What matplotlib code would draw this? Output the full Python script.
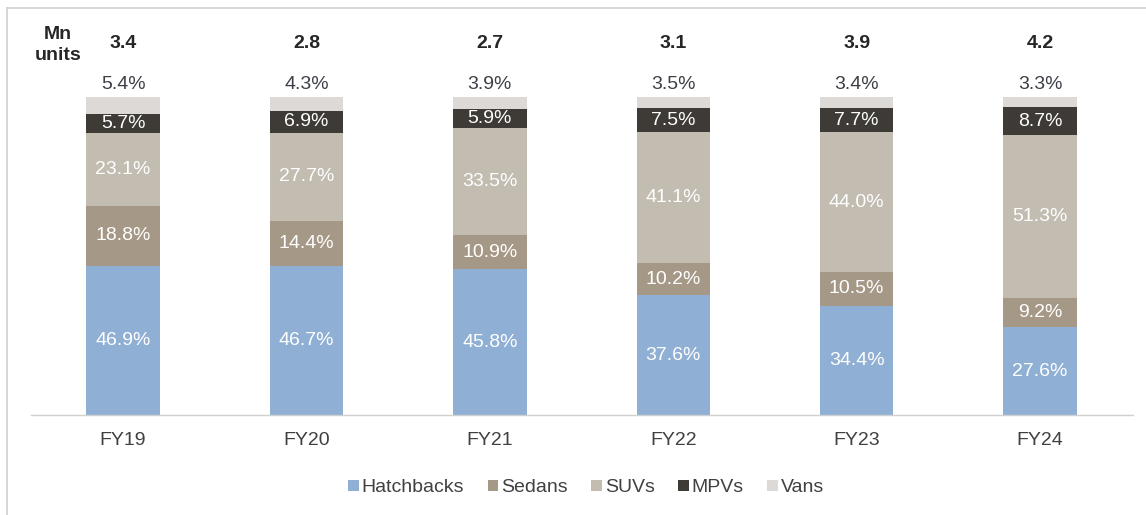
import matplotlib.pyplot as plt
from matplotlib.lines import Line2D
from matplotlib.patches import Patch
import numpy as np

plt.rcParams["font.family"] = ["Liberation Sans", "DejaVu Sans"]

years = ["FY19", "FY20", "FY21", "FY22", "FY23", "FY24"]
totals = [3.4, 2.8, 2.7, 3.1, 3.9, 4.2]
hatchbacks = [46.9, 46.7, 45.8, 37.6, 34.4, 27.6]
sedans = [18.8, 14.4, 10.9, 10.2, 10.5, 9.2]
suvs = [23.1, 27.7, 33.5, 41.1, 44.0, 51.3]
mpvs = [5.7, 6.9, 5.9, 7.5, 7.7, 8.7]
vans = [5.4, 4.3, 3.9, 3.5, 3.4, 3.3]

series = [
    ("Hatchbacks", hatchbacks, "#8fb0d4", "white"),
    ("Sedans", sedans, "#a69886", "white"),
    ("SUVs", suvs, "#c2bcb1", "white"),
    ("MPVs", mpvs, "#3e3a35", "white"),
    ("Vans", vans, "#dcd9d6", None),
]

FS = 14
W, H = 1146, 515
fig = plt.figure(figsize=(W / 100, H / 100), dpi=100)
ax = fig.add_axes([31 / W, 1 - 415 / H, (1133 - 31) / W, (415 - 97) / H])

x = np.arange(len(years))
bottom = np.zeros(len(years))
for name, vals, color, tcolor in series:
    vals = np.array(vals)
    ax.bar(x, vals, width=0.4, bottom=bottom, color=color, label=name, zorder=2)
    for i in range(len(years)):
        if tcolor is not None:
            ax.text(x[i], bottom[i] + vals[i] / 2, f"{vals[i]:.1f}%", ha="center",
                    va="center", color=tcolor, fontsize=FS)
        else:
            ax.text(x[i], 103.9, f"{vals[i]:.1f}%", ha="center", va="center",
                    color="#3c3f46", fontsize=FS, clip_on=False)
    bottom += vals

for i, t in enumerate(totals):
    ax.text(x[i], 116.7, f"{t:.1f}", ha="center", va="center", fontsize=FS,
            fontweight="bold", color="#262626", clip_on=False)

ax.text(-0.355, 119.5, "Mn", ha="center", va="center", fontsize=FS,
        fontweight="bold", color="#262626", clip_on=False)
ax.text(-0.355, 113.2, "units", ha="center", va="center", fontsize=FS,
        fontweight="bold", color="#262626", clip_on=False)

ax.set_xlim(-0.502, 5.507)
ax.set_ylim(0, 100)
ax.set_xticks(x)
ax.set_xticklabels(years, fontsize=FS, color="#404040")
ax.tick_params(axis="x", length=0, pad=12)
ax.set_yticks([])
for s in ["top", "right", "left"]:
    ax.spines[s].set_visible(False)
ax.spines["bottom"].set_color("#d0d0d0")
ax.spines["bottom"].set_linewidth(1)

handles = [Patch(facecolor=c, label=n) for n, _, c, _ in series]
fig.legend(handles=handles, loc="center", bbox_to_anchor=(586 / W, 1 - 488 / H),
           ncol=5, frameon=False, fontsize=FS, handlelength=0.55, handleheight=0.55,
           handletextpad=0.15, columnspacing=1.2, labelcolor="#404040")

# outer frame
fig.add_artist(Line2D([7 / W, 1], [1 - 8 / H, 1 - 8 / H], color="#cfcfcf", lw=1.2,
                      transform=fig.transFigure))
fig.add_artist(Line2D([7 / W, 7 / W], [0, 1 - 8 / H], color="#cfcfcf", lw=1.2,
                      transform=fig.transFigure))

fig.savefig("out.png", dpi=100)
